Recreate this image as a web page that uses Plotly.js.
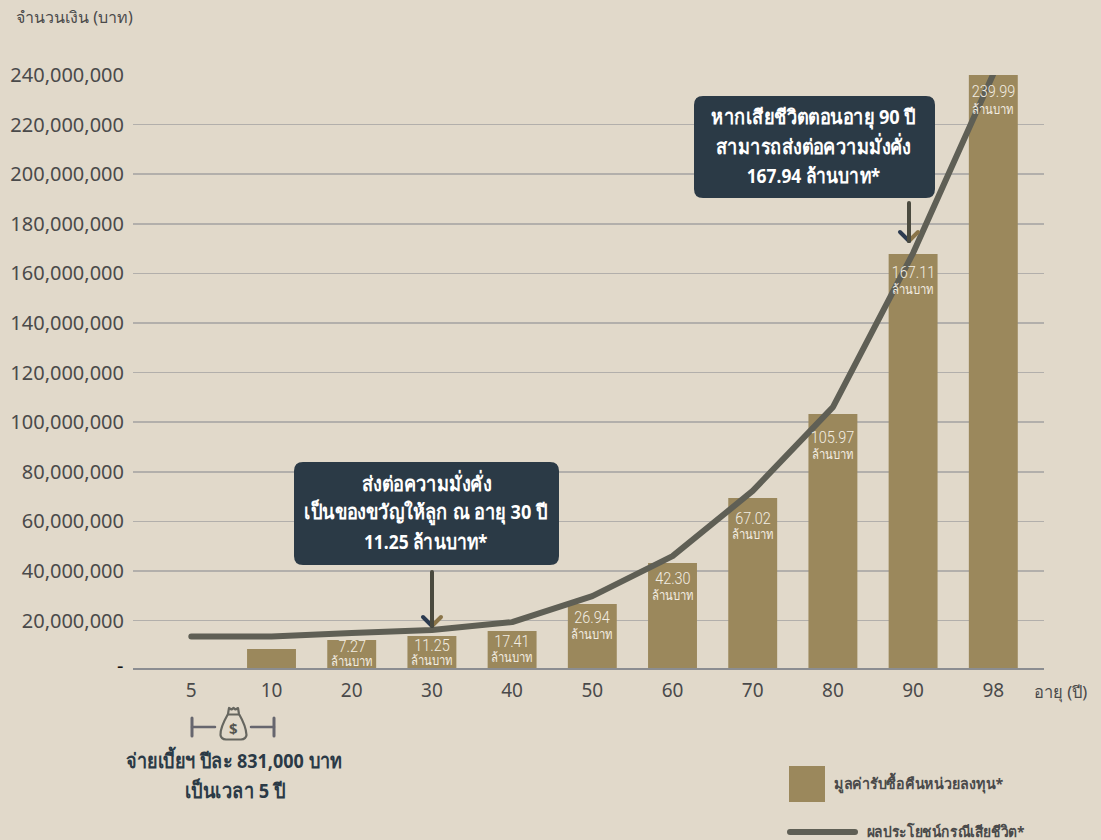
<!DOCTYPE html>
<html><head><meta charset="utf-8">
<script src="https://cdn.plot.ly/plotly-3.0.1.min.js"></script>
<style>html,body{margin:0;padding:0;background:#e1d9ca}#c{width:1101px;height:840px}
.js-line{stroke-linecap:round;stroke-linejoin:round}
.shapelayer path{stroke-linecap:round;stroke-linejoin:round}</style>
</head><body><div id="c"></div>
<script>
const ages=['5','10','20','30','40','50','60','70','80','90','98'];
const barValues=[0,8550000,12200000,13800000,15800000,26700000,43200000,69400000,103300000,167800000,239990000];
const lineValues=[13600000,13600000,15000000,16200000,19400000,29900000,46000000,72300000,106100000,168200000,240400000];
const barLabels=['','','7.27','11.25','17.41','26.94','42.30','67.02','105.97','167.11','239.99'];
const yTicks=[20,40,60,80,100,120,140,160,180,200,220,240].map(v=>v*1000000);
const yTickText=['20,000,000','40,000,000','60,000,000','80,000,000','100,000,000','120,000,000','140,000,000','160,000,000','180,000,000','200,000,000','220,000,000','240,000,000'];
const zeroTickText='-';
const W=1101,H=840,PL=133,PR=1044,PT=75,PB=668;
const BG='#e1d9ca',BAR='#9b885c',LINE='#5f5f55',NAVY='#2b3a46',TXT='#4a4a4a';
const FONT='"Noto Sans", Roboto, sans-serif';
const LIGHT='Roboto, "Noto Sans", sans-serif';
const px=x=>(x-PL)/(PR-PL), py=y=>(PB-y)/(PB-PT);
function roundRect(x0,y0,x1,y1,r){
  const X=px,Y=py;
  return `M${X(x0+r)},${Y(y0)} L${X(x1-r)},${Y(y0)} Q${X(x1)},${Y(y0)} ${X(x1)},${Y(y0+r)} L${X(x1)},${Y(y1-r)} Q${X(x1)},${Y(y1)} ${X(x1-r)},${Y(y1)} L${X(x0+r)},${Y(y1)} Q${X(x0)},${Y(y1)} ${X(x0)},${Y(y1-r)} L${X(x0)},${Y(y0+r)} Q${X(x0)},${Y(y0)} ${X(x0+r)},${Y(y0)} Z`;
}
const seg=(x0,y0,x1,y1,color,width)=>({type:'line',xref:'paper',yref:'paper',layer:'above',x0:px(x0),y0:py(y0),x1:px(x1),y1:py(y1),line:{color,width}});
const box=(x0,y0,x1,y1,r)=>({type:'path',xref:'paper',yref:'paper',layer:'above',path:roundRect(x0,y0,x1,y1,r),fillcolor:NAVY,line:{width:0}});
function arrow(x,y0,y1){return [
  seg(x+9,y1-9,x,y1,'#8a7448',4),
  seg(x-9,y1-9,x,y1,'#2b3a50',4),
  seg(x,y0,x,y1,'#4a4a3f',4)];}
const bag={type:'path',xref:'paper',yref:'paper',layer:'above',line:{color:'#66665f',width:2.2},fillcolor:'rgba(0,0,0,0)',
 path:`M${px(229)},${py(708)} L${px(228)},${py(714)} Q${px(220)},${py(728)} ${px(220.5)},${py(735)} Q${px(221)},${py(739)} ${px(226)},${py(739.5)} L${px(241)},${py(739.5)} Q${px(246)},${py(739)} ${px(246.5)},${py(735)} Q${px(246)},${py(726)} ${px(239)},${py(714)} L${px(238)},${py(708)} L${px(235.5)},${py(709.5)} L${px(233.5)},${py(708)} L${px(231.5)},${py(709.5)} Z`};
const shapes=[
  box(294,462,559,565,9), box(694,96,935,198,9),
  ...arrow(432,572,626), ...arrow(909,203,241),
  seg(192,718,192,736,'#66666e',3), seg(192,727,215,727,'#66666e',2.5),
  seg(251,727,274,727,'#66666e',2.5), seg(274,718,274,736,'#66666e',3),
  bag,
  seg(228,714.5,239,714.5,'#66665f',2),
  {type:'rect',xref:'paper',yref:'paper',x0:px(789),y0:py(766),x1:px(825),y1:py(802),fillcolor:BAR,line:{width:0},layer:'above'},
  seg(790,832,855,832,LINE,6)
];
const scales=[];
const note=(x,y,text,size,color,scale,extra)=>{scales.push(scale||1);return Object.assign({xref:'paper',yref:'paper',x:px(x),y:py(y),text,showarrow:false,font:{family:FONT,size,color},xanchor:'center',yanchor:'middle'},extra||{});};
const annotations=[
  note(74,17,'จำนวนเงิน (บาท)',16,TXT),
  note(1060,691,'อายุ (ปี)',16.5,TXT),
  note(125,665.5,zeroTickText,20,'#111',1,{xanchor:'right'}),
  note(233.5,728,'$',15,'#55554f',1,{font:{family:FONT,size:15,color:'#55554f',weight:700}}),
  note(426,483,'<b>ส่งต่อความมั่งคั่ง</b>',20,'#fff',.91),
  note(426,512,'<b>เป็นของขวัญให้ลูก ณ อายุ 30 ปี</b>',20,'#fff',.91),
  note(426,541,'<b>11.25 ล้านบาท*</b>',20,'#fff',.87),
  note(813,116,'<b>หากเสียชีวิตตอนอายุ 90 ปี</b>',20,'#fff',.91),
  note(813,146,'<b>สามารถส่งต่อความมั่งคั่ง</b>',20,'#fff',.91),
  note(813,175,'<b>167.94 ล้านบาท*</b>',20,'#fff',.87),
  note(234.5,760,'<b>จ่ายเบี้ยฯ ปีละ 831,000 บาท</b>',20,NAVY,.9),
  note(235,790,'<b>เป็นเวลา 5 ปี</b>',20,NAVY,.91),
  note(918,783,'<b>มูลค่ารับซื้อคืนหน่วยลงทุน*</b>',15,TXT,.95),
  note(945.5,831,'<b>ผลประโยชน์กรณีเสียชีวิต*</b>',15,TXT,.92)
];
const labelRows=[0,0,646,645,641,617,578,518,437,272,91];
const unitRows=[0,0,661,660,657,634,595,534,454,289,109];
ages.forEach((a,i)=>{ if(!barLabels[i])return;
  scales.push(.85);
  annotations.push({x:i,xref:'x',y:py(labelRows[i]),yref:'paper',text:barLabels[i],showarrow:false,yanchor:'middle',font:{family:LIGHT,size:17,weight:300,color:'#f3eee2'}});
  scales.push(.87);
  annotations.push({x:i,xref:'x',y:py(unitRows[i]),yref:'paper',text:'ล้านบาท',showarrow:false,yanchor:'middle',font:{family:LIGHT,size:13,color:'#f3eee2'}});
});
const traces=[
 {type:'bar',x:ages,y:barValues,marker:{color:BAR,line:{width:0}},hoverinfo:'skip',showlegend:false},
 {type:'scatter',mode:'lines',x:ages,y:lineValues,line:{color:LINE,width:6},cliponaxis:false,hoverinfo:'skip',showlegend:false}
];
const layout={width:W,height:H,paper_bgcolor:BG,plot_bgcolor:BG,showlegend:false,bargap:0.39,
 margin:{l:PL,r:W-PR,t:PT,b:H-PB,pad:0},
 xaxis:{type:'category',categoryorder:'array',categoryarray:ages,range:[-0.727,10.632],showgrid:false,zeroline:false,showline:true,linecolor:'#8b8d91',linewidth:2,ticks:'outside',ticklen:4,tickcolor:'rgba(0,0,0,0)',
   tickfont:{family:FONT,size:19,color:TXT}},
 yaxis:{range:[900000,240000000],tickmode:'array',tickvals:yTicks,ticktext:yTickText,showgrid:true,gridcolor:'#b2afab',gridwidth:1.5,zeroline:false,showline:false,ticks:'outside',ticklen:4,tickcolor:'rgba(0,0,0,0)',
   tickfont:{family:FONT,size:20,color:TXT}},
 shapes,annotations};
Plotly.newPlot('c',traces,layout,{displayModeBar:false,staticPlot:true}).then(()=>{
  document.querySelectorAll('.annotation').forEach(g=>{
    const s=scales[+g.getAttribute('data-index')];
    const t=g.querySelector('.annotation-text');
    if(t&&s&&s!==1){t.style.transformBox='fill-box';t.style.transformOrigin='center';t.style.transform='scaleX('+s+')';}
  });
});
</script></body></html>
